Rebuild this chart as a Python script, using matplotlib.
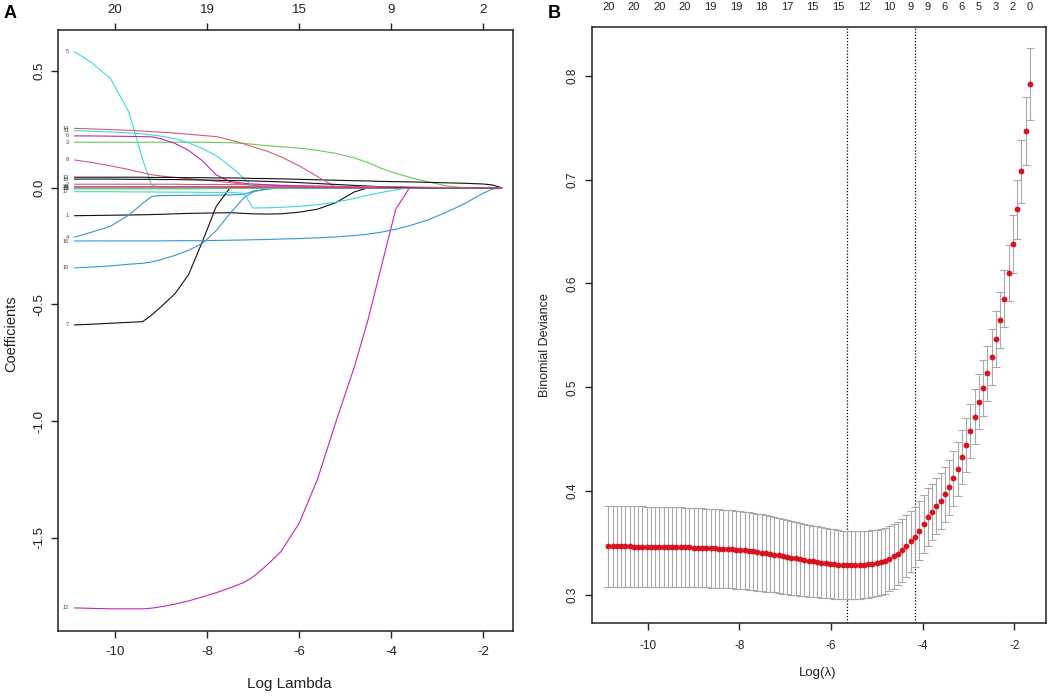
import numpy as np
import matplotlib
matplotlib.use("Agg")
import matplotlib.pyplot as plt

plt.rcParams["font.family"] = ["Liberation Sans", "DejaVu Sans"]
plt.rcParams["axes.unicode_minus"] = False

# ---- panel A: lasso coefficient paths ----
path_loglam = [-10.88, -10.5, -10.1, -9.7, -9.4, -9.2, -9.0, -8.7, -8.4, -8.1,
               -7.8, -7.5, -7.2, -7.0, -6.7, -6.4, -6.0, -5.6, -5.2, -4.8,
               -4.5, -4.2, -3.9, -3.6, -3.2, -2.8, -2.4, -2.0, -1.8, -1.6]

coef_vars = list(range(1, 21))
coef_paths = [
    # 1
    [-0.120, -0.119, -0.118, -0.117, -0.116, -0.115, -0.114, -0.112, -0.110, -0.109,
     -0.108, -0.107, -0.110, -0.112, -0.113, -0.112, -0.105, -0.092, -0.064, -0.018,
     0, 0, 0, 0, 0, 0, 0, 0, 0, 0],
    # 2
    [0.015, 0.015, 0.015, 0.015, 0.015, 0.015, 0.015, 0.015, 0.014, 0.014,
     0.014, 0.013, 0.013, 0.012, 0.011, 0.010, 0.009, 0.008, 0.006, 0.004,
     0.003, 0.002, 0.001, 0, 0, 0, 0, 0, 0, 0],
    # 3
    [0.195, 0.195, 0.195, 0.195, 0.195, 0.195, 0.195, 0.195, 0.195, 0.195,
     0.194, 0.193, 0.190, 0.186, 0.180, 0.176, 0.170, 0.160, 0.147, 0.128,
     0.107, 0.082, 0.062, 0.045, 0.025, 0.008, 0, 0, 0, 0],
    # 4
    [-0.212, -0.190, -0.165, -0.117, -0.067, -0.037, -0.034, -0.033, -0.033, -0.032,
     -0.032, -0.031, -0.028, -0.015, -0.007, 0, 0, 0, 0, 0,
     0, 0, 0, 0, 0, 0, 0, 0, 0, 0],
    # 5
    [0.583, 0.535, 0.468, 0.325, 0.120, 0.010, 0.002, 0, 0, 0,
     0, 0, 0, 0, 0, 0, 0, 0, 0, 0,
     0, 0, 0, 0, 0, 0, 0, 0, 0, 0],
    # 6
    [0.222, 0.222, 0.221, 0.220, 0.219, 0.218, 0.210, 0.190, 0.160, 0.115,
     0.055, 0.026, 0.019, 0.016, 0.013, 0.010, 0.007, 0.004, 0, 0,
     0, 0, 0, 0, 0, 0, 0, 0, 0, 0],
    # 7
    [-0.588, -0.585, -0.581, -0.577, -0.574, -0.545, -0.510, -0.455, -0.372, -0.230,
     -0.080, 0, 0, 0, 0, 0, 0, 0, 0, 0,
     0, 0, 0, 0, 0, 0, 0, 0, 0, 0],
    # 8
    [0.119, 0.108, 0.094, 0.078, 0.064, 0.056, 0.050, 0.044, 0.039, 0.033,
     0.028, 0.022, 0.015, 0.010, 0.005, 0.002, 0, 0, 0, 0,
     0, 0, 0, 0, 0, 0, 0, 0, 0, 0],
    # 9
    [-0.002, -0.002, -0.002, -0.002, -0.002, -0.002, -0.002, -0.002, -0.002, -0.001,
     -0.001, -0.001, -0.001, -0.001, -0.001, -0.001, 0, 0, 0, 0,
     0, 0, 0, 0, 0, 0, 0, 0, 0, 0],
    # 10
    [-0.344, -0.340, -0.335, -0.328, -0.324, -0.318, -0.308, -0.290, -0.268, -0.238,
     -0.184, -0.110, -0.043, -0.018, -0.004, 0, 0, 0, 0, 0,
     0, 0, 0, 0, 0, 0, 0, 0, 0, 0],
    # 11
    [0.245, 0.242, 0.239, 0.235, 0.231, 0.226, 0.221, 0.210, 0.192, 0.168,
     0.137, 0.093, 0.040, 0.006, 0, 0, 0, 0, 0, 0,
     0, 0, 0, 0, 0, 0, 0, 0, 0, 0],
    # 12
    [-1.801, -1.803, -1.805, -1.805, -1.805, -1.802, -1.796, -1.785, -1.771, -1.754,
     -1.736, -1.715, -1.692, -1.668, -1.618, -1.561, -1.439, -1.250, -1.004, -0.769,
     -0.565, -0.329, -0.093, 0, 0, 0, 0, 0, 0, 0],
    # 13
    [0.045, 0.045, 0.045, 0.045, 0.045, 0.044, 0.044, 0.044, 0.043, 0.043,
     0.042, 0.042, 0.041, 0.040, 0.039, 0.038, 0.036, 0.034, 0.032, 0.030,
     0.029, 0.027, 0.026, 0.025, 0.023, 0.021, 0.019, 0.016, 0.012, 0],
    # 14
    [0.2545, 0.252, 0.249, 0.246, 0.243, 0.240, 0.238, 0.234, 0.229, 0.224,
     0.219, 0.205, 0.188, 0.175, 0.157, 0.133, 0.094, 0.048, 0.002, 0,
     0, 0, 0, 0, 0, 0, 0, 0, 0, 0],
    # 15
    [-0.005, -0.005, -0.005, -0.005, -0.005, -0.005, -0.005, -0.005, -0.005, -0.005,
     -0.003, -0.003, -0.003, -0.003, -0.003, -0.003, 0, 0, 0, 0,
     0, 0, 0, 0, 0, 0, 0, 0, 0, 0],
    # 16
    [-0.2285, -0.228, -0.228, -0.228, -0.228, -0.228, -0.228, -0.227, -0.227, -0.227,
     -0.226, -0.225, -0.224, -0.223, -0.222, -0.220, -0.218, -0.215, -0.211, -0.205,
     -0.199, -0.190, -0.178, -0.163, -0.138, -0.105, -0.068, -0.024, -0.006, 0],
    # 17
    [-0.017, -0.017, -0.017, -0.018, -0.018, -0.018, -0.019, -0.019, -0.019, -0.020,
     -0.020, -0.020, -0.024, -0.087, -0.086, -0.084, -0.080, -0.073, -0.062, -0.046,
     -0.032, -0.020, -0.009, 0, 0, 0, 0, 0, 0, 0],
    # 18
    [0.003, 0.003, 0.003, 0.003, 0.003, 0.003, 0.003, 0.003, 0.003, 0.003,
     0.003, 0.003, 0.003, 0.003, 0.003, 0.003, 0.002, 0.001, 0, 0,
     0, 0, 0, 0, 0, 0, 0, 0, 0, 0],
    # 19
    [0.037, 0.037, 0.037, 0.036, 0.036, 0.036, 0.035, 0.035, 0.034, 0.033,
     0.032, 0.031, 0.030, 0.029, 0.027, 0.025, 0.022, 0.018, 0.014, 0.010,
     0.007, 0.004, 0.002, 0.001, 0, 0, 0, 0, 0, 0],
    # 20
    [0.005, 0.005, 0.005, 0.005, 0.005, 0.005, 0.005, 0.005, 0.005, 0.005,
     0.005, 0.005, 0.005, 0.005, 0.005, 0.005, 0.005, 0.005, 0.005, 0.005,
     0.005, 0.004, 0.004, 0.003, 0.002, 0.001, 0, 0, 0, 0],
]

a_xticks = [-10, -8, -6, -4, -2]
a_df_top = ["20", "19", "15", "9", "2"]

# R 4 default palette, cycled over the variables like matplot does
r_palette = ["#111111", "#D65B74", "#67C956", "#3596D2", "#3ED8DA", "#C426B2"]

# ---- panel B: cross-validated binomial deviance ----
cv_loglam_first = -10.86
cv_loglam_last = -1.66
cv_mean = [
    0.3468, 0.3468, 0.3468, 0.3467, 0.3467, 0.3467, 0.3466, 0.3466, 0.3466, 0.3465,
    0.3465, 0.3465, 0.3464, 0.3463, 0.3463, 0.3462, 0.3461, 0.3460, 0.3459, 0.3458,
    0.3457, 0.3455, 0.3454, 0.3452, 0.3451, 0.3449, 0.3447, 0.3445, 0.3442, 0.3439,
    0.3436, 0.3433, 0.3429, 0.3424, 0.3419, 0.3413, 0.3407, 0.3401, 0.3395, 0.3388,
    0.3381, 0.3374, 0.3366, 0.3359, 0.3352, 0.3344, 0.3337, 0.3330, 0.3324, 0.3318,
    0.3312, 0.3307, 0.3302, 0.3297, 0.3293, 0.3290, 0.3287, 0.3288, 0.3289, 0.3290,
    0.3292, 0.3296, 0.3301, 0.3308, 0.3317, 0.3330, 0.3350, 0.3372, 0.3398, 0.3430,
    0.3470, 0.3515, 0.3562, 0.3620, 0.3685, 0.3750, 0.3800, 0.3853, 0.3904, 0.3968,
    0.4039, 0.4122, 0.4215, 0.4327, 0.4446, 0.4580, 0.4718, 0.4859, 0.4994, 0.5135,
    0.5292, 0.5462, 0.5648, 0.5855, 0.6100, 0.6379, 0.6715, 0.7080, 0.7470, 0.7920,
]
cv_sd = [
    0.0388, 0.0388, 0.0388, 0.0388, 0.0388, 0.0387, 0.0387, 0.0387, 0.0387, 0.0386,
    0.0386, 0.0386, 0.0385, 0.0385, 0.0385, 0.0384, 0.0384, 0.0383, 0.0383, 0.0382,
    0.0382, 0.0381, 0.0381, 0.0380, 0.0380, 0.0379, 0.0378, 0.0378, 0.0377, 0.0376,
    0.0376, 0.0375, 0.0374, 0.0373, 0.0372, 0.0371, 0.0369, 0.0368, 0.0366, 0.0364,
    0.0362, 0.0360, 0.0358, 0.0356, 0.0354, 0.0352, 0.0349, 0.0347, 0.0345, 0.0342,
    0.0340, 0.0338, 0.0336, 0.0334, 0.0332, 0.0330, 0.0328, 0.0327, 0.0326, 0.0325,
    0.0324, 0.0323, 0.0322, 0.0320, 0.0318, 0.0316, 0.0313, 0.0310, 0.0306, 0.0302,
    0.0298, 0.0293, 0.0288, 0.0284, 0.0280, 0.0276, 0.0273, 0.0270, 0.0268, 0.0266,
    0.0265, 0.0264, 0.0263, 0.0263, 0.0263, 0.0263, 0.0264, 0.0265, 0.0266, 0.0267,
    0.0268, 0.0269, 0.0270, 0.0271, 0.0272, 0.0276, 0.0283, 0.0305, 0.0330, 0.0345,
]
idx_min = 56
idx_1se = 72
nz_idx = [0, 6, 12, 18, 24, 30, 36, 42, 48, 54, 60, 66, 71, 75, 79, 83, 87, 91, 95, 99]
nz_labels = ["20", "20", "20", "20", "19", "19", "18", "17", "15", "15",
             "12", "10", "9", "9", "6", "6", "5", "3", "2", "0"]
b_xticks = [-10, -8, -6, -4, -2]
b_yticks = [0.3, 0.4, 0.5, 0.6, 0.7, 0.8]

W, H = 1053, 698
fig = plt.figure(figsize=(W / 100, H / 100), dpi=100)


def px_box(x0, y0, x1, y1):
    return [x0 / W, 1 - y1 / H, (x1 - x0) / W, (y1 - y0) / H]


def r_style(ax, size, pad_x, pad_y):
    for sp in ax.spines.values():
        sp.set_linewidth(1.1)
        sp.set_color("#222222")
    ax.tick_params(axis="both", direction="out", length=5, width=1.0,
                   colors="#222222", labelsize=size)
    ax.tick_params(axis="x", pad=pad_x)
    ax.tick_params(axis="y", pad=pad_y, labelrotation=90)
    for lab in ax.get_yticklabels():
        lab.set_va("center")


# ---------------- A ----------------
ax_a = fig.add_axes(px_box(58, 30, 513, 631))
for var, vals in zip(coef_vars, coef_paths):
    ax_a.plot(path_loglam, vals, color=r_palette[(var - 1) % 6], lw=0.8)
    ax_a.text(path_loglam[0] - 0.12, vals[0], str(var), fontsize=4,
              color="#444444", ha="right", va="center")

ax_a.set_xlim(-11.24, -1.35)
ax_a.set_ylim(-1.90, 0.676)
ax_a.set_xticks(a_xticks)
ax_a.set_yticks([-1.5, -1.0, -0.5, 0.0, 0.5])
ax_a.set_yticklabels(["-1.5", "-1.0", "-0.5", "0.0", "0.5"])
r_style(ax_a, 9.5, 6, 4)

top_a = ax_a.twiny()
top_a.set_xlim(ax_a.get_xlim())
top_a.set_xticks(a_xticks)
top_a.set_xticklabels(a_df_top)
top_a.tick_params(axis="x", direction="out", length=5, width=1.0,
                  colors="#222222", labelsize=9.5, pad=5)
for sp in top_a.spines.values():
    sp.set_visible(False)

fig.text(11 / W, 1 - 334 / H, "Coefficients", rotation=90, fontsize=10.5,
         ha="center", va="center", color="#222222")
fig.text(289 / W, 1 - 684 / H, "Log Lambda", fontsize=11,
         ha="center", va="center", color="#222222")
fig.text(10 / W, 1 - 14 / H, "A", fontsize=13, fontweight="bold",
         ha="center", va="center")

# ---------------- B ----------------
ax_b = fig.add_axes(px_box(592, 27, 1046, 623))
cv_loglam = np.linspace(cv_loglam_first, cv_loglam_last, len(cv_mean))
ax_b.errorbar(cv_loglam, cv_mean, yerr=cv_sd, fmt="none", ecolor="#a9a9a9",
              elinewidth=0.8, capsize=3, capthick=0.8, zorder=2)
ax_b.plot(cv_loglam, cv_mean, "o", color="#d7141d", ms=4.2, mec="none", zorder=3)
for i in (idx_min, idx_1se):
    ax_b.axvline(cv_loglam[i], color="black", lw=0.9, ls=(0, (1, 1.5)), zorder=1)

ax_b.set_xlim(-11.216, -1.311)
ax_b.set_ylim(0.273, 0.847)
ax_b.set_xticks(b_xticks)
ax_b.set_yticks(b_yticks)
ax_b.set_yticklabels([f"{v:.1f}" for v in b_yticks])
r_style(ax_b, 8.5, 7, 5)

top_b = ax_b.twiny()
top_b.set_xlim(ax_b.get_xlim())
top_b.set_xticks([cv_loglam[i] for i in nz_idx])
top_b.set_xticklabels(nz_labels)
top_b.tick_params(axis="x", length=0, colors="#222222", labelsize=8, pad=11)
for sp in top_b.spines.values():
    sp.set_visible(False)

fig.text(545 / W, 1 - 345 / H, "Binomial Deviance", rotation=90, fontsize=9,
         ha="center", va="center", color="#222222")
fig.text(818 / W, 1 - 673 / H, "Log(\u03bb)", fontsize=9.5,
         ha="center", va="center", color="#222222")
fig.text(554 / W, 1 - 14 / H, "B", fontsize=13, fontweight="bold",
         ha="center", va="center")

fig.savefig("out.png", dpi=100)
